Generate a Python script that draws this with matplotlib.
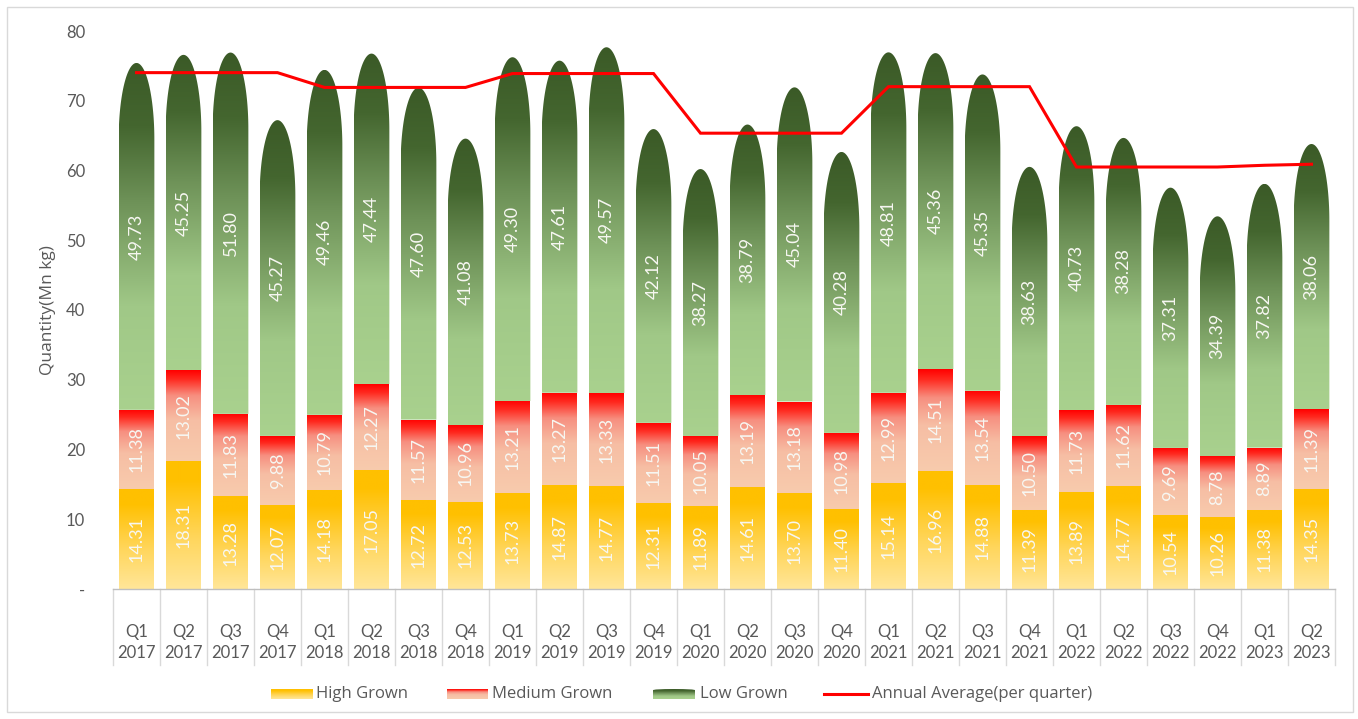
import numpy as np
import matplotlib
matplotlib.use("Agg")
import matplotlib.pyplot as plt
from matplotlib.path import Path
from matplotlib.patches import PathPatch, Rectangle, FancyBboxPatch
from matplotlib.colors import LinearSegmentedColormap
from matplotlib.lines import Line2D

quarters = ["Q1", "Q2", "Q3", "Q4", "Q1", "Q2", "Q3", "Q4", "Q1", "Q2", "Q3", "Q4",
            "Q1", "Q2", "Q3", "Q4", "Q1", "Q2", "Q3", "Q4", "Q1", "Q2", "Q3", "Q4",
            "Q1", "Q2"]
years = ["2017", "2017", "2017", "2017", "2018", "2018", "2018", "2018",
         "2019", "2019", "2019", "2019", "2020", "2020", "2020", "2020",
         "2021", "2021", "2021", "2021", "2022", "2022", "2022", "2022",
         "2023", "2023"]
high = [14.31, 18.31, 13.28, 12.07, 14.18, 17.05, 12.72, 12.53, 13.73, 14.87, 14.77, 12.31,
        11.89, 14.61, 13.70, 11.40, 15.14, 16.96, 14.88, 11.39, 13.89, 14.77, 10.54, 10.26,
        11.38, 14.35]
medium = [11.38, 13.02, 11.83, 9.88, 10.79, 12.27, 11.57, 10.96, 13.21, 13.27, 13.33, 11.51,
          10.05, 13.19, 13.18, 10.98, 12.99, 14.51, 13.54, 10.50, 11.73, 11.62, 9.69, 8.78,
          8.89, 11.39]
low = [49.73, 45.25, 51.80, 45.27, 49.46, 47.44, 47.60, 41.08, 49.30, 47.61, 49.57, 42.12,
       38.27, 38.79, 45.04, 40.28, 48.81, 45.36, 45.35, 38.63, 40.73, 38.28, 37.31, 34.39,
       37.82, 38.06]
annual_avg = [74.03, 74.03, 74.03, 74.03, 71.91, 71.91, 71.91, 71.91,
              73.90, 73.90, 73.90, 73.90, 65.35, 65.35, 65.35, 65.35,
              72.02, 72.02, 72.02, 72.02, 60.50, 60.50, 60.50, 60.50,
              60.75, 60.90]
yticks = [0, 10, 20, 30, 40, 50, 60, 70, 80]
ytick_labels = ["-", "10", "20", "30", "40", "50", "60", "70", "80"]

FONT = "Lato"
WIDE = "Open Sans"
TXT = "#595959"

cm_high = LinearSegmentedColormap.from_list("high", [(0, "#FFE699"), (0.4, "#FFD65C"), (0.85, "#FFC000"), (1, "#FFC000")])
cm_med = LinearSegmentedColormap.from_list("med", [(0, "#F8CBAD"), (0.45, "#F6BEA4"), (0.72, "#F78F80"), (0.9, "#FF2A20"), (1, "#FF0000")])
cm_low = LinearSegmentedColormap.from_list("low", [(0, "#A9D18E"), (0.3, "#A0C887"), (0.6, "#6E9258"), (0.82, "#44662F"), (1, "#3B5A27")])

fig = plt.figure(figsize=(13.58, 7.19), dpi=100)
W, H = 1358, 719
ax = fig.add_axes([113 / W, 1 - 589 / H, (1335 - 113) / W, (589 - 31) / H])

grad = np.linspace(0, 1, 256).reshape(-1, 1)
bw = 0.76
tip_h = 11.0


def fill(x0, x1, y0, y1, cmap, path):
    patch = PathPatch(path, facecolor="none", edgecolor="none", transform=ax.transData)
    ax.add_patch(patch)
    im = ax.imshow(grad, cmap=cmap, origin="lower", extent=[x0, x1, y0, y1],
                   aspect="auto", interpolation="bilinear", zorder=2)
    im.set_clip_path(patch)


def rect_path(x0, x1, y0, y1):
    return Path([(x0, y0), (x1, y0), (x1, y1), (x0, y1), (x0, y0)],
                [Path.MOVETO, Path.LINETO, Path.LINETO, Path.LINETO, Path.CLOSEPOLY])


def bullet_path(xc, w, y0, y1, h):
    h = min(h, y1 - y0)
    t = np.linspace(0, np.pi, 80)
    xs = xc + (w / 2) * np.cos(t)
    ys = (y1 - h) + h * np.sin(t)
    verts = [(xc + w / 2, y0)] + list(zip(xs, ys)) + [(xc - w / 2, y0), (xc + w / 2, y0)]
    codes = [Path.MOVETO] + [Path.LINETO] * (len(verts) - 2) + [Path.CLOSEPOLY]
    return Path(verts, codes)


lab_kw = dict(rotation=90, ha="center", va="center", color="#F7F7F2", fontsize=13,
              family=FONT, zorder=5)
for i in range(len(high)):
    x0, x1 = i - bw / 2, i + bw / 2
    b1 = high[i]
    b2 = b1 + medium[i]
    b3 = b2 + low[i]
    fill(x0, x1, 0, b1, cm_high, rect_path(x0, x1, 0, b1))
    fill(x0, x1, b1, b2, cm_med, rect_path(x0, x1, b1, b2))
    fill(x0, x1, b2, b3, cm_low, bullet_path(i, bw, b2, b3, tip_h))
    ax.text(i, b1 / 2, f"{high[i]:.2f}", **lab_kw)
    ax.text(i, (b1 + b2) / 2, f"{medium[i]:.2f}", **lab_kw)
    ax.text(i, (b2 + b3) / 2, f"{low[i]:.2f}", **lab_kw)

ax.plot(range(len(annual_avg)), annual_avg, color="#FF0000", lw=2.2, zorder=6,
        solid_joinstyle="miter")

ax.set_xlim(-0.5, len(high) - 0.5)
ax.set_ylim(0, 80)
ax.set_yticks(yticks)
ax.set_yticklabels(ytick_labels, family=FONT, fontsize=12, color=TXT)
ax.tick_params(axis="y", length=0, pad=20)
ax.set_xticks([])
for s in ["left", "right", "top"]:
    ax.spines[s].set_visible(False)
ax.spines["bottom"].set_color("#BFBFBF")
ax.spines["bottom"].set_linewidth(1.0)
ax.set_ylabel("Quantity(Mn kg)", family=WIDE, fontsize=12.5, color=TXT, labelpad=7)

# multi-level category axis
tr = ax.get_xaxis_transform()
for i in range(len(high)):
    ax.text(i, -0.077, quarters[i], transform=tr, ha="center", va="center",
            family=FONT, fontsize=12, color=TXT, clip_on=False)
    ax.text(i, -0.114, years[i], transform=tr, ha="center", va="center",
            family=FONT, fontsize=12, color=TXT, clip_on=False)
for i in range(len(high) + 1):
    ax.add_line(Line2D([i - 0.5, i - 0.5], [0, -0.137], transform=tr, color="#D9D9D9",
                       lw=1.0, clip_on=False))


# legend (manual, figure pixel coords)
def fig_box(x0, y0, x1, y1):
    return [x0 / W, 1 - y1 / H, (x1 - x0) / W, (y1 - y0) / H]


def legend_patch(x0, x1, cmap, rounded=False):
    lax = fig.add_axes(fig_box(x0, 689, x1, 699))
    lax.set_xlim(0, 1)
    lax.set_ylim(0, 1)
    lax.axis("off")
    im = lax.imshow(grad, cmap=cmap, origin="lower", extent=[0, 1, 0, 1], aspect="auto")
    if rounded:
        p = FancyBboxPatch((0.0, -0.5), 1.0, 1.5, boxstyle="round,pad=0,rounding_size=0.5",
                           mutation_aspect=0.25, transform=lax.transData,
                           facecolor="none", edgecolor="none")
        lax.add_patch(p)
        im.set_clip_path(p)


LY = 1 - 694 / H
leg_kw = dict(family=WIDE, fontsize=12, color=TXT, va="center")
legend_patch(271, 313, cm_high)
fig.text(316 / W, LY, "High Grown", **leg_kw)
legend_patch(447, 488, cm_med)
fig.text(492 / W, LY, "Medium Grown", **leg_kw)
legend_patch(653, 695, cm_low, rounded=True)
fig.text(700 / W, LY, "Low Grown", **leg_kw)
fig.add_artist(Line2D([824 / W, 868 / W], [LY, LY], color="#FF0000", lw=2.2))
fig.text(872 / W, LY, "Annual Average(per quarter)", **leg_kw)

# chart border
fig.add_artist(Rectangle((7 / W, 1 - 712 / H), (1353 - 7) / W, (712 - 7) / H,
                         transform=fig.transFigure, facecolor="none", edgecolor="#D9D9D9", lw=1.0))

fig.savefig("out.png", dpi=100)
